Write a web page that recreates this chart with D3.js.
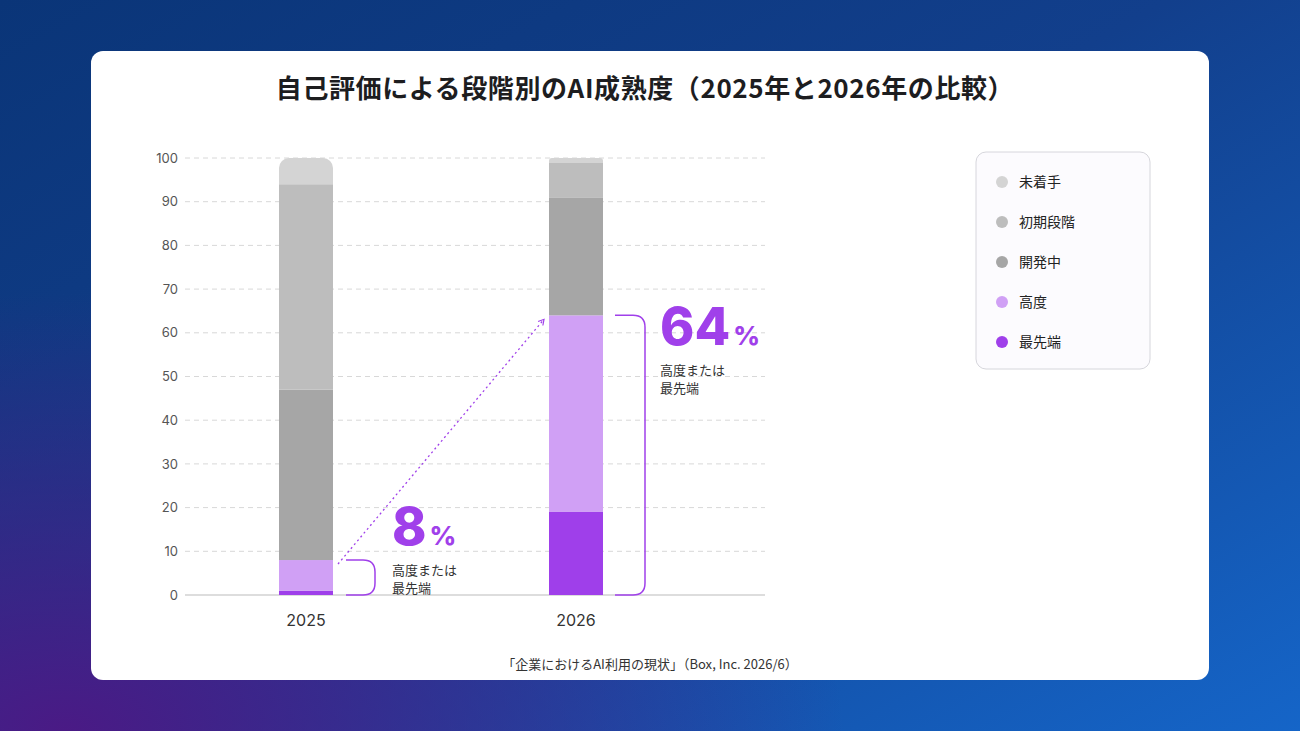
<!DOCTYPE html>
<html><head><meta charset="utf-8">
<script src="https://cdn.jsdelivr.net/npm/d3@7"></script>
<style>body{margin:0;}svg{display:block;font-family:"Noto Sans CJK JP","Noto Sans",sans-serif;}</style>
</head><body><svg id="c" width="1300" height="731"></svg>
<script>
const years = ["2025", "2026"];
const stages = ["最先端", "高度", "開発中", "初期段階", "未着手"];
const values2025 = [1, 7, 39, 47, 6];
const values2026 = [19, 45, 27, 8, 1];
const colors = ["#9f3fea", "#d0a0f5", "#a6a6a6", "#bdbdbd", "#d4d4d4"];
const yTicks = [0, 10, 20, 30, 40, 50, 60, 70, 80, 90, 100];
const highlight = [8, 64];

const svg = d3.select("#c");
const defs = svg.append("defs");
let g1 = defs.append("linearGradient").attr("id", "bg").attr("x1", 0).attr("y1", 0).attr("x2", 1).attr("y2", 1);
g1.append("stop").attr("offset", "0%").attr("stop-color", "#0a3578");
g1.append("stop").attr("offset", "45%").attr("stop-color", "#123f8c");
g1.append("stop").attr("offset", "100%").attr("stop-color", "#1565c8");
svg.append("rect").attr("width", 1300).attr("height", 731).attr("fill", "url(#bg)");
let g2 = defs.append("radialGradient").attr("id", "pur").attr("cx", 0.05).attr("cy", 1).attr("r", 0.6);
g2.append("stop").attr("offset", "0%").attr("stop-color", "#4a1a85").attr("stop-opacity", 1);
g2.append("stop").attr("offset", "100%").attr("stop-color", "#4a1a85").attr("stop-opacity", 0);
svg.append("rect").attr("width", 1300).attr("height", 731).attr("fill", "url(#pur)");

svg.append("rect").attr("x", 91).attr("y", 51).attr("width", 1118).attr("height", 629).attr("rx", 12).attr("fill", "#fff");

svg.append("text").attr("x", 645).attr("y", 98).attr("text-anchor", "middle")
  .attr("font-size", 26).attr("letter-spacing", 0.6).attr("font-weight", 700).attr("fill", "#1d1d1f")
  .text("自己評価による段階別のAI成熟度（2025年と2026年の比較）");

const y = d3.scaleLinear().domain([0, 100]).range([595, 158]);
const x = d3.scaleBand().domain(years).range([171, 711]).paddingInner(0.8).paddingOuter(0.4);

// grid
svg.append("g").selectAll("line").data(yTicks.slice(1)).join("line")
  .attr("x1", 185).attr("x2", 765).attr("y1", d => y(d)).attr("y2", d => y(d))
  .attr("stroke", "#d8d8d8").attr("stroke-dasharray", "5,4");
const ax = svg.append("g").attr("transform", "translate(178,0)").call(d3.axisLeft(y).tickValues(yTicks).tickSize(0).tickPadding(0));
ax.select(".domain").remove();
ax.selectAll("text").attr("font-size", 13).attr("fill", "#555").attr("font-family", "Inter,sans-serif");
svg.append("line").attr("x1", 185).attr("x2", 765).attr("y1", 595).attr("y2", 595).attr("stroke", "#bbb");

const data = [values2025, values2026];
data.forEach((vals, i) => {
  const yr = years[i];
  const stack = d3.cumsum(vals);
  const cp = "clip" + i;
  defs.append("clipPath").attr("id", cp).append("rect")
    .attr("x", x(yr)).attr("y", y(100)).attr("width", x.bandwidth()).attr("height", y(0) - y(100) + 10)
    .attr("rx", i === 0 ? 10 : 3);
  svg.append("g").attr("clip-path", `url(#${cp})`).selectAll("rect").data(vals).join("rect")
    .attr("x", x(yr)).attr("width", x.bandwidth())
    .attr("y", (d, j) => y(stack[j])).attr("height", d => y(0) - y(d))
    .attr("fill", (d, j) => colors[j]);
  svg.append("text").attr("x", x(yr) + x.bandwidth() / 2).attr("y", 626).attr("text-anchor", "middle")
    .attr("font-size", 16).attr("fill", "#333").attr("font-family", "Inter,sans-serif").text(yr);
});

// brackets and annotations
const purple = "#a040ea";
function bracket(bx, top, w) {
  const b = y(0), r = 12;
  svg.append("path").attr("fill", "none").attr("stroke", purple).attr("stroke-width", 1.5)
    .attr("d", `M${bx},${top} H${bx + w - r} Q${bx + w},${top} ${bx + w},${top + r} V${b - r} Q${bx + w},${b} ${bx + w - r},${b} H${bx}`);
}
const bx0 = x(years[0]) + x.bandwidth() + 13, bx1 = x(years[1]) + x.bandwidth() + 12;
bracket(bx0, y(highlight[0]), 29);
bracket(bx1, y(highlight[1]), 30);

defs.append("marker").attr("id", "arr").attr("viewBox", "0 0 10 10").attr("refX", 8).attr("refY", 5)
  .attr("markerWidth", 6).attr("markerHeight", 6).attr("orient", "auto")
  .append("path").attr("d", "M1,1 L8,5 L1,9").attr("fill", "none").attr("stroke", purple).attr("stroke-width", 1.5);
svg.append("line").attr("x1", x(years[0]) + x.bandwidth() + 5).attr("y1", y(highlight[0]) + 4)
  .attr("x2", x(years[1]) - 5).attr("y2", y(highlight[1]) + 4)
  .attr("stroke", purple).attr("stroke-width", 1.3).attr("stroke-dasharray", "2,3").attr("marker-end", "url(#arr)");

function callout(tx, ty, v) {
  const t = svg.append("text").attr("x", tx).attr("y", ty).attr("fill", purple).attr("font-family", "Inter,sans-serif").attr("font-weight", 800);
  t.append("tspan").attr("font-size", 52).text(v);
  t.append("tspan").attr("font-size", 26).attr("dx", 3).text("%");
  svg.append("text").attr("x", tx).attr("y", ty + 30).attr("font-size", 13).attr("fill", "#333").text("高度または");
  svg.append("text").attr("x", tx).attr("y", ty + 48).attr("font-size", 13).attr("fill", "#333").text("最先端");
}
callout(392, 545, highlight[0]);
callout(660, 345, highlight[1]);

// legend
svg.append("rect").attr("x", 976).attr("y", 152).attr("width", 174).attr("height", 217).attr("rx", 10)
  .attr("fill", "#fcfbfe").attr("stroke", "#d6d6dc");
const leg = svg.append("g").selectAll("g").data(stages.slice().reverse()).join("g")
  .attr("transform", (d, i) => `translate(1002,${182 + i * 40})`);
leg.append("circle").attr("r", 6).attr("fill", d => colors[stages.indexOf(d)]);
leg.append("text").attr("x", 17).attr("y", 5).attr("font-size", 14).attr("fill", "#222").text(d => d);

svg.append("text").attr("x", 650).attr("y", 669).attr("text-anchor", "middle").attr("font-size", 13).attr("fill", "#333")
  .text("「企業におけるAI利用の現状」（Box, Inc. 2026/6）");
</script></body></html>
